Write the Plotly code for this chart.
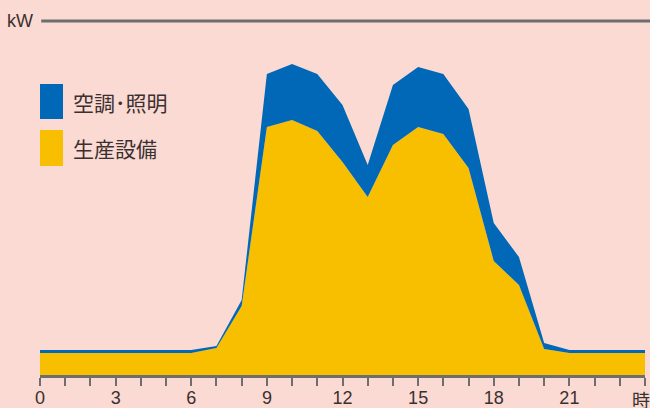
import plotly.graph_objects as go

hours = list(range(0, 25))
# 生産設備 (bottom, yellow)
production = [22, 22, 22, 22, 22, 22, 22, 27, 69, 248, 255, 244, 213, 178, 230, 248, 241, 207, 114, 90, 26, 22, 22, 22, 22]
# 空調・照明 (stacked on top, blue)
hvac_light = [3, 3, 3, 3, 3, 3, 3, 2, 6, 53, 56, 57, 57, 32, 60, 60, 60, 59, 38, 28, 6, 3, 3, 3, 3]

tick_vals = list(range(0, 25))
tick_text = [str(h) if h % 3 == 0 and h < 24 else "" for h in tick_vals]
unit_label = "時"

series_names = ["生産設備", "空調･照明"]
colors = ["#F8BE00", "#0068B6"]
BG = "#FADAD2"
GRAY = "#6E6E6E"
TXT = "#3A3030"

fig = go.Figure()
fig.add_trace(go.Scatter(x=hours, y=production, name=series_names[0], stackgroup="s",
                         mode="lines", line=dict(width=0, color=colors[0]),
                         fillcolor=colors[0]))
fig.add_trace(go.Scatter(x=hours, y=hvac_light, name=series_names[1], stackgroup="s",
                         mode="lines", line=dict(width=0, color=colors[1]),
                         fillcolor=colors[1]))

fig.update_layout(
    width=650, height=408,
    margin=dict(l=40, r=5, t=21, b=33, autoexpand=False),
    paper_bgcolor=BG, plot_bgcolor=BG,
    showlegend=False,
    font=dict(family="Liberation Sans, Arial, sans-serif", color=TXT),
    xaxis=dict(range=[0, 24], tickvals=tick_vals, ticktext=tick_text, automargin=False,
               showgrid=False, zeroline=False, showline=True, linecolor=GRAY, linewidth=3,
               ticks="outside", ticklen=8, tickwidth=2, tickcolor=GRAY,
               ticklabelstandoff=-4,
               tickfont=dict(size=18, family="Liberation Sans, Arial, sans-serif", color=TXT),
               fixedrange=True),
    yaxis=dict(range=[0, 354], visible=False, fixedrange=True, automargin=False),
)

# unit label at the end of the x axis
fig.add_annotation(xref="x", yref="paper", x=tick_vals[-1], y=0, xanchor="center", yanchor="top",
                   yshift=-9, xshift=-4, text=unit_label, showarrow=False,
                   font=dict(size=18, color=TXT, family="Noto Sans CJK JP"))

# top kW line
fig.add_shape(type="line", xref="paper", yref="paper", x0=0.002, x1=1.02, y0=1, y1=1,
              line=dict(color=GRAY, width=3))
fig.add_annotation(xref="paper", yref="paper", x=0, y=1, xanchor="right", yanchor="middle",
                   xshift=-5, text="kW", showarrow=False,
                   font=dict(size=18, color=TXT, family="Liberation Sans, Arial, sans-serif"))

# legend (custom)
legend_items = [(series_names[1], colors[1], 84, 119), (series_names[0], colors[0], 130, 166)]
for name, col, ytop, ybot in legend_items:
    y0 = 1 - (ytop - 21) / 354
    y1 = 1 - (ybot - 21) / 354
    fig.add_shape(type="rect", xref="paper", yref="paper", x0=0, x1=23 / 605, y0=y1, y1=y0,
                  fillcolor=col, line=dict(width=0))
    fig.add_annotation(xref="paper", yref="paper", x=31 / 605, y=(y0 + y1) / 2,
                       xanchor="left", yanchor="middle", text=name, showarrow=False,
                       font=dict(size=21, color=TXT, family="Noto Sans CJK JP"))

fig.write_html("out.html")
